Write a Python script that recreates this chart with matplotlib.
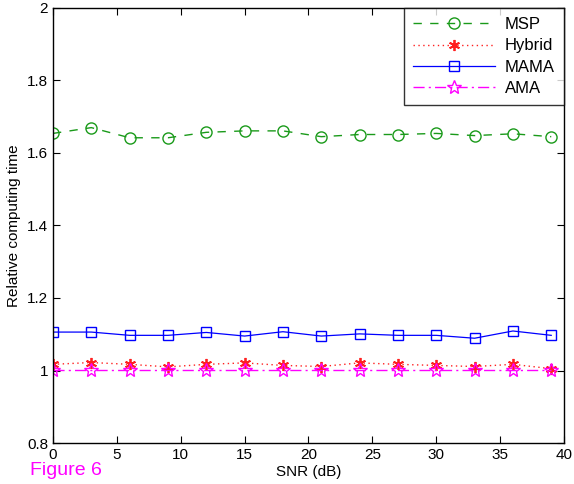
import matplotlib
matplotlib.use("Agg")
import matplotlib.pyplot as plt

plt.rcParams['font.family'] = ['Liberation Sans', 'DejaVu Sans']

snr = [0, 3, 6, 9, 12, 15, 18, 21, 24, 27, 30, 33, 36, 39]
msp = [1.654, 1.670, 1.642, 1.642, 1.657, 1.661, 1.661, 1.645, 1.651, 1.651, 1.654, 1.648, 1.653, 1.645]
hybrid = [1.017, 1.022, 1.017, 1.010, 1.017, 1.021, 1.014, 1.011, 1.021, 1.017, 1.014, 1.011, 1.017, 1.005]
mama = [1.106, 1.106, 1.097, 1.097, 1.105, 1.095, 1.107, 1.095, 1.101, 1.097, 1.097, 1.089, 1.109, 1.097]
ama = [1.002, 1.002, 1.002, 1.002, 1.002, 1.002, 1.002, 1.002, 1.002, 1.002, 1.002, 1.002, 1.002, 1.002]
xticks = [0, 5, 10, 15, 20, 25, 30, 35, 40]
yticks = [0.8, 1.0, 1.2, 1.4, 1.6, 1.8, 2.0]
yticklabels = ['0.8', '1', '1.2', '1.4', '1.6', '1.8', '2']

fig = plt.figure(figsize=(5.74, 4.84), dpi=100)
ax = fig.add_axes([0.0923, 0.0847, 0.8903, 0.8988])

ax.plot(snr, msp, color='#1a9a1a', linestyle=(0, (6, 6)), linewidth=1.0,
        marker='o', markersize=8, markerfacecolor='none', markeredgecolor='#1a9a1a', label='MSP')
ax.plot(snr, hybrid, color='#ff2020', linestyle=(0, (1, 2.5)), linewidth=1.0,
        marker=(6, 2, 0), markersize=8, markeredgewidth=1.3, markeredgecolor='#ff2020', label='Hybrid')
ax.plot(snr, mama, color='#0000ff', linestyle='-', linewidth=0.9,
        marker='s', markersize=7, markerfacecolor='none', markeredgecolor='#0000ff', label='MAMA')
ax.plot(snr, ama, color='#ff00ff', linestyle=(0, (8, 3, 1.5, 3)), linewidth=1.0,
        marker='*', markersize=10, markerfacecolor='none', markeredgecolor='#ff00ff', label='AMA')

ax.set_xlim(0, 40)
ax.set_ylim(0.8, 2.0)
ax.set_xticks(xticks)
ax.set_yticks(yticks)
ax.set_yticklabels(yticklabels)
ax.tick_params(direction='in', top=True, right=True, labelsize=11, length=5, width=0.8)
for s in ax.spines.values():
    s.set_linewidth(1.0)

ax.set_xlabel('SNR (dB)', fontsize=11, labelpad=2)
ax.set_ylabel('Relative computing time', fontsize=11, labelpad=4)

leg = ax.legend(loc='upper right', fontsize=12, fancybox=False, frameon=True,
                edgecolor='black', borderaxespad=0, handlelength=4.9,
                labelspacing=0.38, borderpad=0.55, handletextpad=0.6)
leg.get_frame().set_linewidth(1.0)

fig.text(0.052, 0.018, 'Figure 6', color='#ff00ff', fontsize=14)

fig.savefig('out.png', dpi=100)
